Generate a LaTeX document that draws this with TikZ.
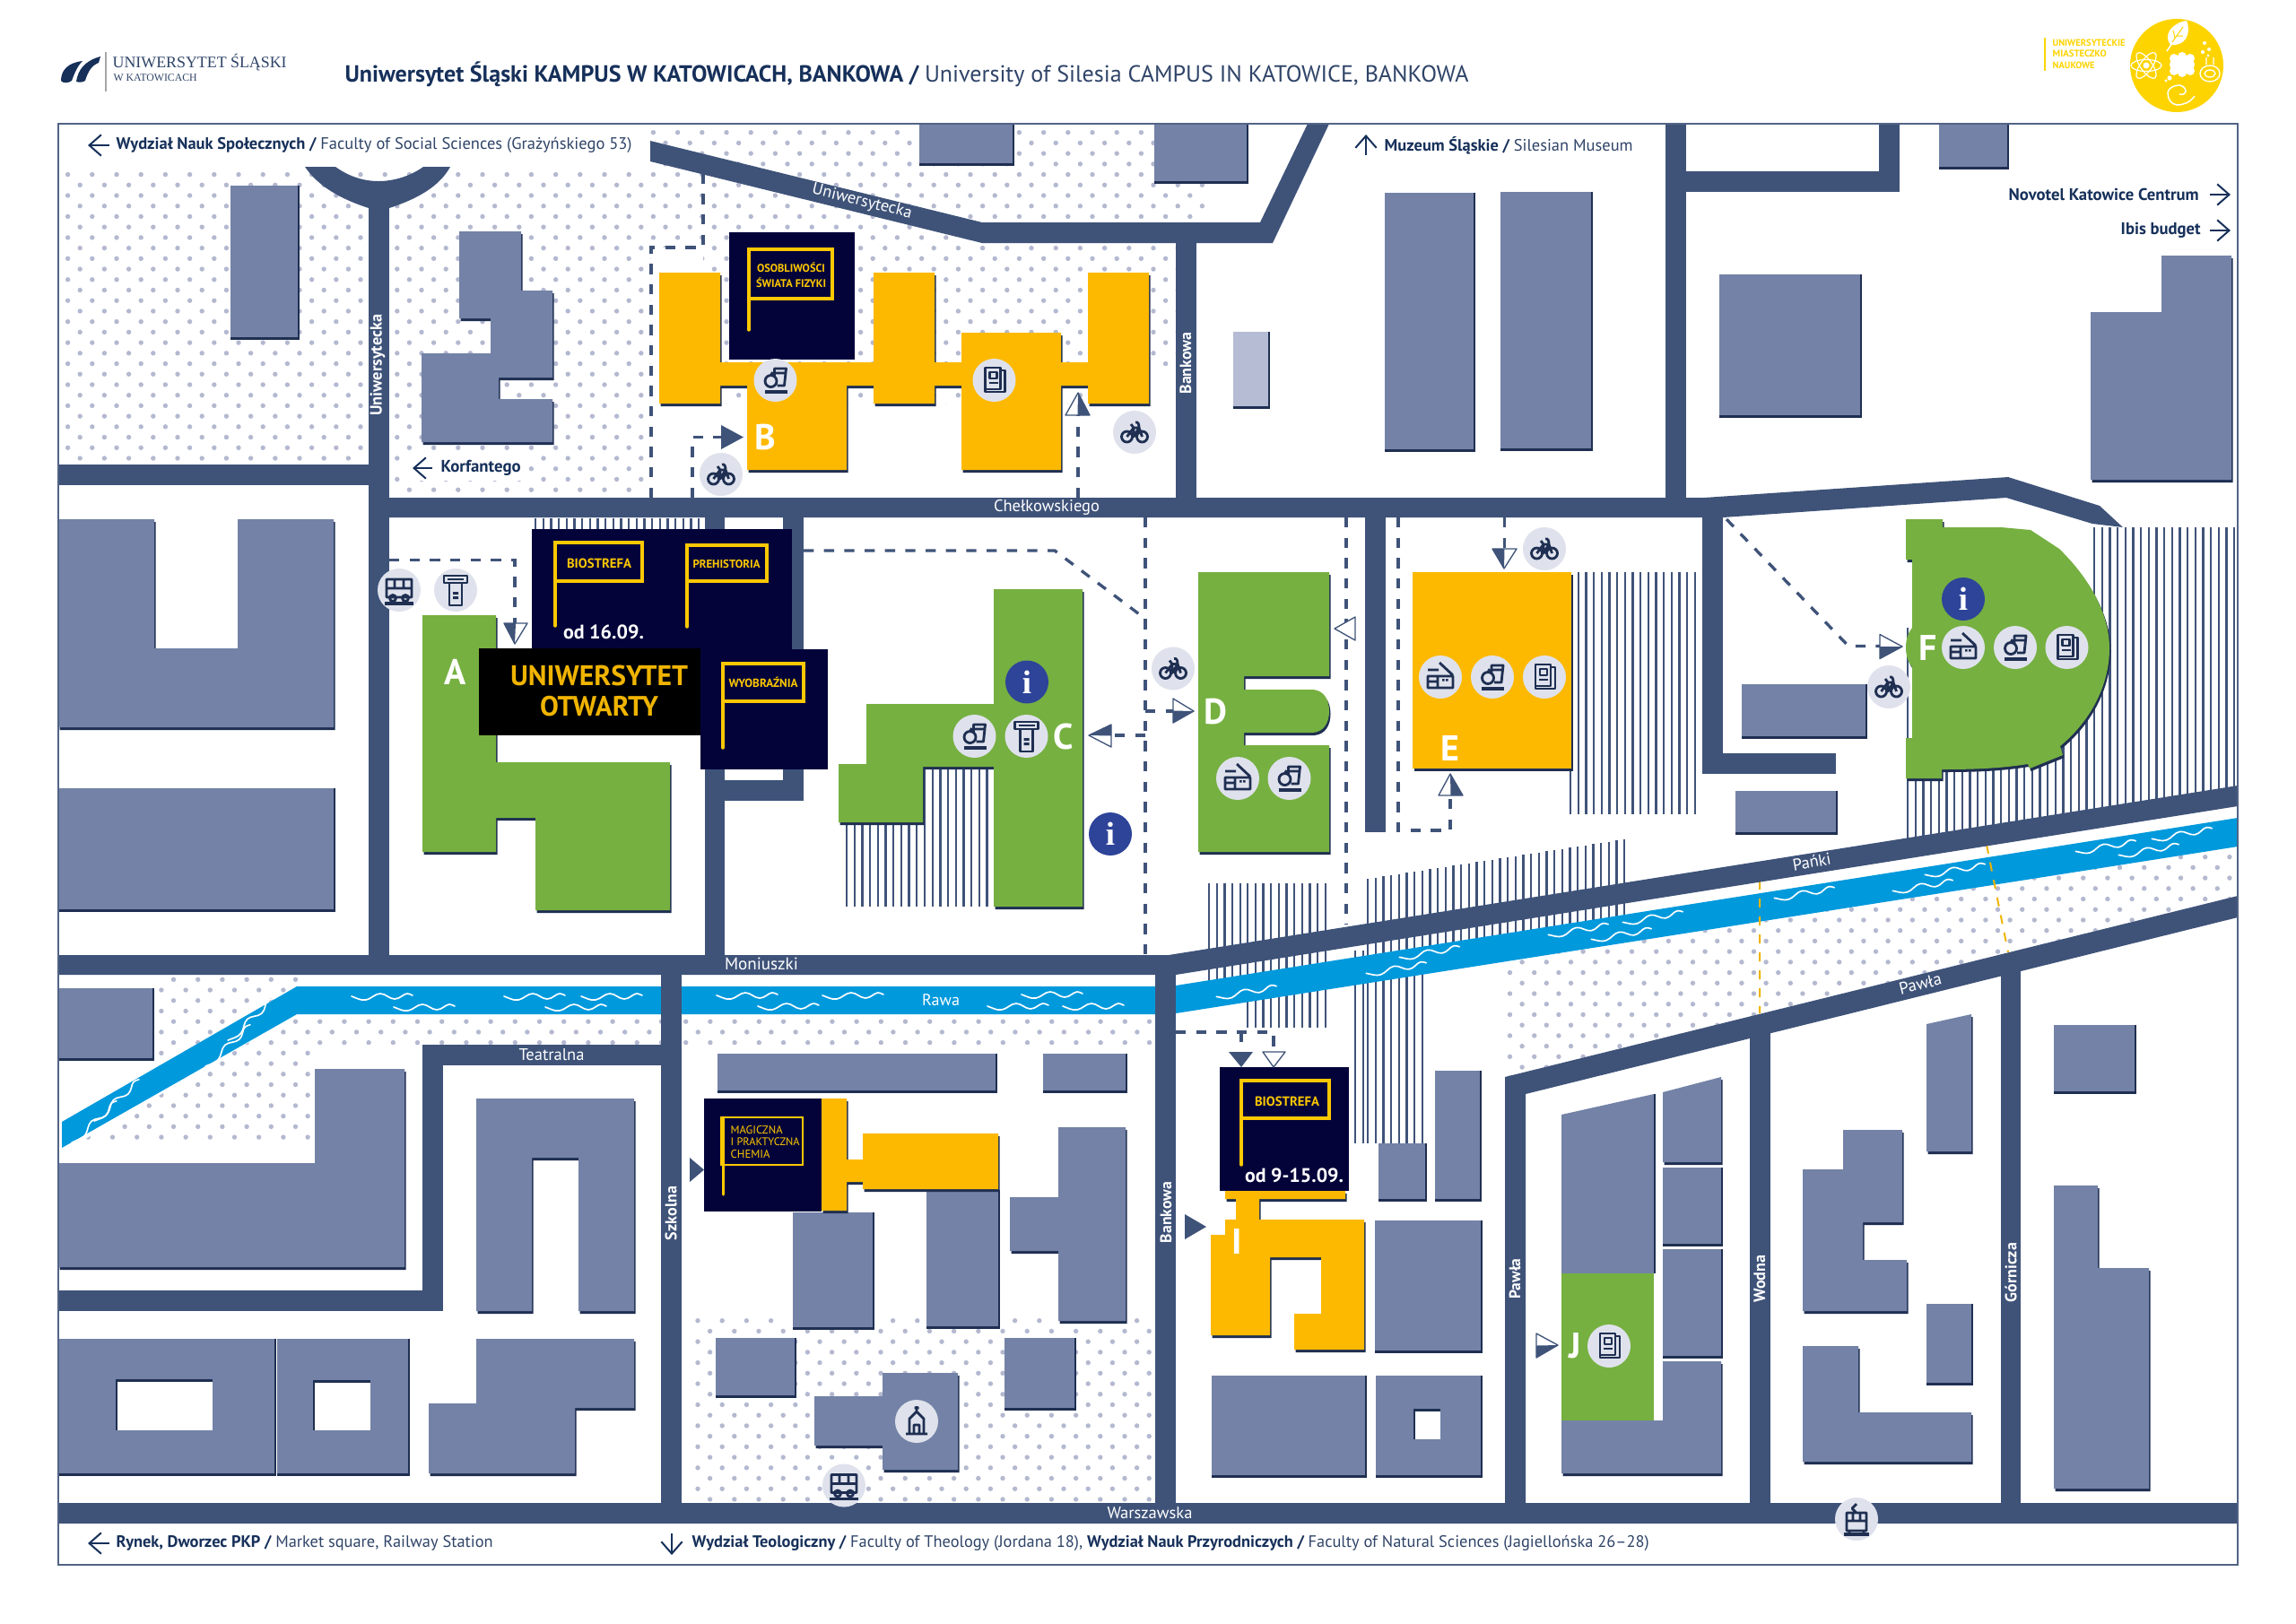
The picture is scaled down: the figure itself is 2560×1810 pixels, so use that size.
\documentclass[tikz,border=0pt]{standalone}
\usepackage{fontspec}
\setmainfont{PT Sans}
\newfontfamily\srf{Liberation Serif}
\usetikzlibrary{calc,arrows.meta}
\definecolor{roadc}{HTML}{3F5379}
\definecolor{bldc}{HTML}{7382A6}
\definecolor{lightb}{HTML}{B5BCD3}
\definecolor{shadc}{HTML}{1F2F52}
\definecolor{yelc}{HTML}{FDB900}
\definecolor{grnc}{HTML}{76B041}
\definecolor{rivc}{HTML}{0099DC}
\definecolor{navyc}{HTML}{03033A}
\definecolor{iconbg}{HTML}{DFE2EC}
\definecolor{infoc}{HTML}{2E4499}
\definecolor{dotc}{HTML}{B4B9D0}
\definecolor{flagc}{HTML}{FDC800}
\definecolor{txtb}{HTML}{16305A}
\definecolor{txtr}{HTML}{2F4468}
\definecolor{logoy}{HTML}{FDD400}
\definecolor{orgc}{HTML}{F0B400}
\newlength\pxu \setlength\pxu{0.3pt}
\newcommand\tw[2]{\resizebox{#1\pxu}{!}{#2}}
\newcommand\bld[2][bldc]{\fill[shadc,shift={(1.5,3)}] #2 -- cycle; \fill[#1] #2 -- cycle;}
\newcommand\rct[5][bldc]{\fill[shadc] (#2,#3) rectangle (#4+1.5,#5+3); \fill[#1] (#2,#3) rectangle (#4,#5);}
\newcommand\hole[4]{\fill[shadc] (#1-2,#2-3) rectangle (#3,#4); \fill[white] (#1,#2) rectangle (#3,#4);}
\newcommand\hatchr[4]{\pgfmathtruncatemacro\hn{(#2-#1)/8.67}\foreach \hk in {0,...,\hn}{\pgfmathsetmacro\hx{#1+8.67*\hk}\draw[hatchl] (\hx,#3) -- (\hx,#4);}}
\newcommand\dotfield[4]{\foreach \ri in {0,...,#3}{\pgfmathsetmacro\yy{#2+11.72*\ri}\pgfmathsetmacro\xo{#1+13.6*mod(\ri,2)}\foreach \ci in {0,...,#4}{\pgfmathsetmacro\xx{\xo+27.2*\ci}\fill[dotc] (\xx,\yy) circle (2.7);}}}
\newcommand\wave[3]{\draw[white,line width=.5pt,line cap=round,shift={(#1,#2)},rotate=#3] (-34,-1) .. controls (-28,1) and (-24,4) .. (-18,3) .. controls (-12,2) and (-8,-4) .. (-2,-4) .. controls (4,-4) and (8,2) .. (14,2) .. controls (20,2) and (24,-4) .. (28,-4) .. controls (30,-4) and (32,-3) .. (34,-2);}
\newcommand\flag[5]{\draw[flagc,line width=1pt] (#1,#2) rectangle (#3,#4); \draw[flagc,line width=1pt,line cap=round] (#1,#4) -- (#1,#5);}
\newcommand\harrow[3]{\filldraw[fill=white,draw=roadc,line width=.4pt,line join=round] #1 -- #2 -- #3 -- cycle; \fill[roadc] #1 -- #2 -- ($#2!.5!#3$) -- cycle;}
\newcommand\oarrow[3]{\filldraw[fill=white,draw=roadc,line width=.4pt,line join=round] #1 -- #2 -- #3 -- cycle;}
\newcommand\farrow[3]{\fill[roadc] #1 -- #2 -- #3 -- cycle;}
\newcommand\icbg[2]{\fill[iconbg] (#1,#2) circle (24);}
\tikzset{il/.style={draw=shadc,line width=.85pt,line join=round},
 dashl/.style={draw=roadc,line width=1pt,dash pattern=on 3.4pt off 3.4pt},
 hatchl/.style={draw=roadc,line width=.7pt},
 strt/.style={text=white,inner sep=0pt},
 lett/.style={text=white,inner sep=0pt,font=\bfseries\fontsize{12}{12}\selectfont},
 lbl/.style={inner sep=0pt,anchor=west},
 barb/.style={draw=txtb,line width=.6pt,-{Straight Barb[length=4pt,width=7pt]}}}
\newcommand\icbike[2]{\icbg{#1}{#2}\begin{scope}[shift={(#1,#2)}]\draw[il] (-8.5,5) circle (6) (8.5,5) circle (6) (-8.5,5) -- (-1,-5) -- (5,-5) -- (8.5,5) (-1,-5) -- (-1,5) -- (5,-5) (-4,-9) -- (-1,-5) (1,-11) .. controls (4,-12) and (5,-9) .. (5,-5);\end{scope}}
\newcommand\iclab[2]{\icbg{#1}{#2}\begin{scope}[shift={(#1,#2)}]\draw[il] (-5,1) circle (6.5) (-5,-5.5) -- (-3,-9) (-1,-5) -- (-1,-13) -- (12,-13) -- (10,6) -- (2,6) (-1,-8) -- (11.5,-8);\draw[shadc,line width=1pt] (-12,13) -- (13,13);\end{scope}}
\newcommand\icatm[2]{\icbg{#1}{#2}\begin{scope}[shift={(#1,#2)}]\draw[il] (-13,-16) rectangle (13,-8) (-7,-8) -- (-7,17) -- (7,17) -- (7,-8) (-9,-12) -- (9,-12);\fill[shadc] (-3,2) rectangle (3,5) (-3,7) rectangle (3,10);\end{scope}}
\newcommand\icbook[2]{\icbg{#1}{#2}\begin{scope}[shift={(#1,#2)}]\draw[il] (-10,-14) rectangle (7,10) (7,-11) -- (12,-11) -- (12,13) -- (-10,13) -- (-10,10) (-5,-9) rectangle (3,-2) (-6,3) -- (4,3);\end{scope}}
\newcommand\icradio[2]{\icbg{#1}{#2}\begin{scope}[shift={(#1,#2)}]\draw[il] (-14,-1) rectangle (14,12) (-14,5) -- (-3,5) (-3,-1) -- (-3,12) (-14,-8) -- (-2,-8) (-1,-16) -- (14,-2);\fill[shadc] (2,2) rectangle (4.5,4.5) (6,2) rectangle (8.5,4.5);\end{scope}}
\newcommand\icbus[2]{\icbg{#1}{#2}\begin{scope}[shift={(#1,#2)}]\draw[il] (-14,-12) rectangle (14,8) (-14,-2) -- (14,-2) (-5,-12) -- (-5,-2) (5,-12) -- (5,-2) (-7,9) circle (3.5) (7,9) circle (3.5);\draw[shadc,line width=1pt] (-16,15) -- (16,15);\end{scope}}
\newcommand\ictrain[2]{\icbg{#1}{#2}\begin{scope}[shift={(#1,#2)}]\draw[il] (-11,-7) rectangle (11,13) (-11,2) -- (11,2) (-4,-7) -- (-4,2) (4,-7) -- (4,2) (0,-7) -- (-5,-12) -- (0,-17) (-8,13) -- (-8,17) (8,13) -- (8,17);\draw[shadc,line width=1pt] (-14,17) -- (14,17);\end{scope}}
\newcommand\icchurch[2]{\icbg{#1}{#2}\begin{scope}[shift={(#1,#2)}]\draw[il] (-8,14) -- (-8,-3) -- (0,-11) -- (8,-3) -- (8,14) (-3,14) -- (-3,4) -- (3,4) -- (3,14) (0,-11) -- (0,-17) (-2.5,-15) -- (2.5,-15) (-12,14) -- (12,14);\end{scope}}
\newcommand\icinfo[3]{\fill[infoc] (#2,#3) circle (24); \node[text=white,font=\srf\bfseries\fontsize{11}{11}\selectfont,inner sep=0pt] (#1) at (#2,#3) {i};}
\begin{document}
\begin{tikzpicture}[x=0.3pt,y=-0.3pt]
\useasboundingbox (0,0) rectangle (2560,1810);
\fill[white] (0,0) rectangle (2560,1810);
% dot fields
\begin{scope}
\clip (725,140) -- (1458,140) -- (1405,248) -- (1095,248) -- (725,157) -- cycle
 (68,188) -- (725,188) -- (725,180) -- (1095,271) -- (1311,271) -- (1311,410) -- (1281,410) -- (1281,450) -- (735,450) -- (735,304) -- (784,304) -- (784,276) -- (726,276) -- (726,555) -- (434,555) -- (434,518) -- (68,518) -- cycle;
\dotfield{75.6}{147.7}{35}{46}
\end{scope}
\begin{scope}
\clip (172,1089) -- (335,1089) -- (331,1100) -- (172,1192) -- cycle
 (331,1131) -- (737,1131) -- (737,1165) -- (351,1165) -- (351,1272) -- (92,1272) -- cycle
 (760,1131) -- (1288,1131) -- (1288,1165) -- (760,1165) -- cycle;
\dotfield{84.7}{1092.3}{16}{44}
\end{scope}
\begin{scope}
\clip (760,1465) -- (1288,1465) -- (1288,1676) -- (760,1676) -- cycle;
\dotfield{778}{1472.7}{18}{19}
\end{scope}
\begin{scope}
\clip (1680,1072) -- (2495,944) -- (2495,999) -- (1678,1201) -- cycle;
\dotfield{1669.9}{932.2}{24}{31}
\end{scope}
% hatches
\hatchr{597}{786}{578}{600}
\hatchr{944}{1029}{915}{1011}
\hatchr{1031}{1108}{855}{1011}
\hatchr{1751}{1892}{638}{908}
\foreach \hk in {0,...,42}{\pgfmathsetmacro\hx{2127+8.67*\hk}\pgfmathsetmacro\hB{1075-(\hx-1303)*0.15856}\pgfmathsetmacro\hT{\hx<2333?700:588}\draw[hatchl] (\hx,\hT) -- (\hx,\hB);}
\hatchr{1348}{1388}{985}{1110}
\hatchr{1391}{1480}{985}{1146}
\hatchr{1511}{1525}{1060}{1275}
\foreach \hk in {0,...,33}{\pgfmathsetmacro\hx{1525+8.67*\hk}\pgfmathsetmacro\hT{980-(\hx-1525)*0.15385}\pgfmathsetmacro\hB{\hx<1591?1275:1105-(\hx-1311)*0.15794}\draw[hatchl] (\hx,\hT) -- (\hx,\hB);}
% river
\fill[rivc] (69,1251) -- (331,1100) -- (1288,1100) -- (1288,1131) -- (331,1131) -- (69,1280) -- cycle;
\fill[rivc] (1285,1101) -- (1311,1099) -- (2495,912) -- (2495,944) -- (1311,1130) -- (1285,1130) -- cycle;
\foreach \wx/\wy in {426/1112,473/1124,596/1112,642/1124,682/1112,833/1111,879/1123,951/1111,1173/1110,1135/1123,1219/1123}{\wave{\wx}{\wy}{0}}
\foreach \wx/\wy in {280/1138,255/1167,131/1228,106/1252}{\wave{\wx}{\wy}{42}}
\foreach \wx/\wy in {1390/1107,1557/1081,1594/1063,1760/1038,1808/1043,1843/1024,2012/997,2144/989,2180/971,2348/945,2396/949,2433/931}{\wave{\wx}{\wy}{9}}
% orange dashed
\draw[orgc,line width=.6pt,dash pattern=on 3pt off 3pt] (1962,982) -- (1962,1130) (2215,942) -- (2239,1062);
% dashed routes under roads
\draw[dashl] (726,555) -- (726,276) -- (784,276) -- (784,194);
\draw[dashl] (772,555) -- (772,487.5) -- (804,487.5);
\draw[dashl] (1202,555) -- (1202,463);
\draw[dashl] (1277,577) -- (1277,1065);
\draw[dashl] (896,614) -- (1176,614) -- (1277,690);
\draw[dashl] (1277,820) -- (1239,820);
\draw[dashl] (1277,793) -- (1308,793);
\draw[dashl] (1501,577) -- (1501,1031);
\draw[dashl] (1559,577) -- (1559,926) -- (1617,926) -- (1617,887);
\draw[dashl] (1677.5,577) -- (1677.5,612);
\draw[dashl] (1925,579) -- (2061,720.5) -- (2096,720.5);
\draw[dashl] (434,624.5) -- (574,624.5) -- (574,695);
\draw[dashl] (1311,1151) -- (1420,1151) -- (1420,1173);
\draw[dashl] (1384,1151) -- (1384,1173);
% roads
\begin{scope}[roadc]
\fill (725,157) -- (1095,248) -- (1405,248) -- (1458,138) -- (1482,138) -- (1419,271) -- (1095,271) -- (725,180) -- cycle;
\fill (340,186) .. controls (355,208) and (380,222) .. (411,232) -- (434,232) .. controls (465,222) and (490,208) .. (502,186) -- (472,186) .. controls (458,196) and (440,202) .. (422,202) .. controls (404,202) and (388,196) .. (374,186) -- cycle;
\fill (411,225) rectangle (434,1070);
\fill (65,518) rectangle (411,540.5);
\fill (434,555) -- (1900,555) -- (2239,532) -- (2341,564) -- (2367,588) -- (2333,584) -- (2237,555) -- (1921,577) -- (434,577) -- cycle;
\fill (1311,265) rectangle (1334,560);
\fill (1857,138) rectangle (1880,560);
\fill (2095,138) rectangle (2118,213.5);
\fill (1880,191) rectangle (2118,213.5);
\fill (786,577) rectangle (808,1070);
\fill (873,577) rectangle (896,892.5);
\fill (786,870) rectangle (896,892.5);
\fill (1522,577) rectangle (1545,928);
\fill (1898,570) rectangle (1921,863);
\fill (1898,840) rectangle (2047,863);
\fill (65,1065) -- (1303,1065) -- (2495,876) -- (2495,899) -- (1311,1087) -- (65,1087) -- cycle;
\fill (1288,1070) rectangle (1311,1680);
\fill (65,1676) rectangle (2495,1699);
\fill (737,1087) rectangle (760,1680);
\fill (471,1165) rectangle (737,1188);
\fill (471,1165) rectangle (494,1462);
\fill (65,1439) rectangle (494,1462);
\fill (1678,1201) -- (2495,999) -- (2495,1023) -- (1701,1220) -- (1701,1680) -- (1678,1680) -- cycle;
\fill (1951,1150) rectangle (1974,1680);
\fill (2231,1070) rectangle (2253,1680);
\end{scope}
% grey buildings
\rct{257}{207}{332}{376}
\bld{(512,258) -- (581,258) -- (581,324) -- (616,324) -- (616,421) -- (556,421) -- (556,445) -- (616,445) -- (616,493) -- (470,493) -- (470,394) -- (547,394) -- (547,355) -- (512,355)}
\rct{1025}{138}{1129}{182}
\rct{1287}{138}{1390}{202}
\rct[lightb]{1375}{370}{1414}{453}
\rct{1544}{215}{1643}{501}
\rct{1673}{214}{1774}{500}
\rct{1917}{306}{2074}{463}
\rct{2162}{138}{2238}{186}
\bld{(2331,348) -- (2410,348) -- (2410,285) -- (2488,285) -- (2488,535) -- (2331,535)}
\bld{(65,579) -- (172,579) -- (172,723) -- (265,723) -- (265,579) -- (372,579) -- (372,811) -- (65,811)}
\rct{65}{879}{372}{1014}
\rct{1942}{763}{2080}{821}
\rct{1935}{882}{2047}{928}
\rct{65}{1102}{170}{1180}
\bld{(351,1192) -- (451,1192) -- (451,1413) -- (65,1413) -- (65,1297) -- (351,1297)}
\bld{(531,1225) -- (707,1225) -- (707,1462) -- (645,1462) -- (645,1291) -- (593,1291) -- (593,1462) -- (531,1462)}
\rct{65}{1493}{306}{1643}\hole{131}{1541}{237}{1595}
\rct{309}{1493}{455}{1643}\hole{351}{1542}{413}{1595}
\bld{(531,1493) -- (707,1493) -- (707,1570) -- (641,1570) -- (641,1643) -- (478,1643) -- (478,1565) -- (531,1565)}
\rct{800}{1175}{1110}{1216}
\rct{1163}{1175}{1255}{1216}
\rct{884}{1352}{973}{1480}
\rct{1033}{1327}{1113}{1479}
\bld{(1180,1257) -- (1255,1257) -- (1255,1473) -- (1180,1473) -- (1180,1395) -- (1126,1395) -- (1126,1335) -- (1180,1335)}
\rct{798}{1492}{886}{1556}
\rct{1120}{1492}{1198}{1570}
\bld{(984,1531) -- (1068,1531) -- (1068,1639) -- (984,1639) -- (984,1612) -- (908,1612) -- (908,1557) -- (984,1557)}
\rct{1537}{1275}{1589}{1337}
\rct{1600}{1194}{1650}{1337}
\rct{1533}{1361}{1651}{1506}
\rct{1351}{1534}{1522}{1645}
\rct{1534}{1534}{1651}{1645}\hole{1578}{1574}{1606}{1605}
\fill[bldc] (1741,1243) -- (1844,1220) -- (1844,1420) -- (1741,1420) -- cycle;
\fill[shadc] (1844,1220) rectangle (1845.5,1420);
\bld{(1741,1584) -- (1854,1584) -- (1854,1518) -- (1919,1518) -- (1919,1643) -- (1741,1643)}
\bld{(1854,1218) -- (1919,1201) -- (1919,1296) -- (1854,1296)}
\rct{1854}{1302}{1919}{1387}
\rct{1854}{1393}{1919}{1512}
\bld{(2055,1260) -- (2121,1260) -- (2121,1363) -- (2077,1363) -- (2077,1405) -- (2126,1405) -- (2126,1462) -- (2010,1462) -- (2010,1304) -- (2055,1304)}
\bld{(2148,1142) -- (2198,1131) -- (2198,1284) -- (2148,1284)}
\rct{2148}{1454}{2198}{1542}
\bld{(2010,1501) -- (2072,1501) -- (2072,1575) -- (2198,1575) -- (2198,1630) -- (2010,1630)}
\rct{2290}{1143}{2380}{1217}
\bld{(2290,1322) -- (2339,1322) -- (2339,1414) -- (2396,1414) -- (2396,1660) -- (2290,1660)}
% coloured buildings
\bld[grnc]{(471,686) -- (553,686) -- (553,850) -- (747,850) -- (747,1015) -- (597,1015) -- (597,912) -- (553,912) -- (553,950) -- (471,950)}
\bld[yelc]{(735,304) -- (803,304) -- (803,404) -- (974,404) -- (974,304) -- (1042,304) -- (1042,404) -- (1072,404) -- (1072,371) -- (1183,371) -- (1183,404) -- (1213,404) -- (1213,304) -- (1281,304) -- (1281,450) -- (1213,450) -- (1213,430) -- (1183,430) -- (1183,524) -- (1072,524) -- (1072,430) -- (1042,430) -- (1042,450) -- (974,450) -- (974,430) -- (944,430) -- (944,524) -- (833,524) -- (833,430) -- (803,430) -- (803,450) -- (735,450)}
\bld[grnc]{(1108,657) -- (1207,657) -- (1207,1011) -- (1108,1011) -- (1108,855) -- (1029,855) -- (1029,917) -- (935,917) -- (935,852) -- (966,852) -- (966,785) -- (1108,785)}
\bld[grnc]{(1336,638) -- (1482,638) -- (1482,754) -- (1387,754) -- (1387,769) -- (1464,769) .. controls (1476,770) and (1482,780) .. (1482,793) .. controls (1482,806) and (1476,816) .. (1464,817) -- (1387,817) -- (1387,831) -- (1482,831) -- (1482,950) -- (1336,950)}
\bld[yelc]{(1575,638) -- (1752,638) -- (1752,857) -- (1575,857)}
\bld[grnc]{(2125,579) -- (2166,579) -- (2166,588) -- (2231,588) -- (2264,591) -- (2296,612) .. controls (2335,650) and (2352,690) .. (2352,723) .. controls (2352,765) and (2330,805) .. (2297,832) -- (2300,842) -- (2263,857) -- (2261,852) .. controls (2230,857) and (2200,858) .. (2165,858) -- (2165,868) -- (2125,868) -- (2125,823) -- (2132,823) -- (2132,744) .. controls (2127,738) and (2125,730) .. (2125,722) .. controls (2125,714) and (2127,706) .. (2132,700) -- (2132,624) -- (2125,624)}
\bld[yelc]{(916,1225) -- (944,1225) -- (944,1293) -- (962,1293) -- (962,1264) -- (1113,1264) -- (1113,1326) -- (962,1326) -- (962,1318) -- (944,1318) -- (944,1350) -- (916,1350)}
\bld[yelc]{(1366,1328) -- (1500,1328) -- (1500,1337) -- (1404,1337) -- (1404,1360) -- (1521,1360) -- (1521,1505) -- (1443,1505) -- (1443,1465) -- (1473,1465) -- (1473,1402) -- (1416,1402) -- (1416,1489) -- (1350,1489) -- (1350,1377) -- (1366,1377) -- (1366,1360) -- (1378,1360) -- (1378,1337) -- (1366,1337)}
\fill[grnc] (1741,1420) rectangle (1844,1584);
% panels
\fill[navyc] (813,259) rectangle (953,401);
\fill[navyc] (593,590) rectangle (883,725);
\fill[navyc] (781,724) rectangle (923,858);
\fill[black] (534,723) rectangle (781,819.5);
\fill[navyc] (785,1225) rectangle (916,1351);
\fill[navyc] (1360,1190) rectangle (1504,1328);
\flag{835}{278}{928}{333}{368}
\flag{619}{605}{716}{648}{698}
\flag{766}{608}{855}{648}{699}
\flag{806}{740}{896}{782}{834}
\flag{1384}{1205}{1482}{1247}{1299}
\draw[flagc,line width=.35pt] (804,1246) rectangle (895,1299);
\draw[flagc,line width=.9pt,line cap=round] (806,1246) -- (806,1332);
% arrow heads
\harrow{(574,718)}{(562,695)}{(588,695)}
\farrow{(829,487.5)}{(804,474)}{(804,501)}
\harrow{(1202,438)}{(1215,463)}{(1188,463)}
\harrow{(1214,820)}{(1239,808)}{(1239,833)}
\harrow{(1331,793)}{(1308,806)}{(1308,779)}
\oarrow{(1488,701)}{(1511,688)}{(1511,714)}
\harrow{(1617,863)}{(1631,887)}{(1604,887)}
\harrow{(1677,634)}{(1664,612)}{(1691,612)}
\harrow{(2121,721)}{(2096,734.5)}{(2096,707.5)}
\farrow{(1384,1190)}{(1370,1173)}{(1397,1173)}
\oarrow{(1420,1190)}{(1408,1173)}{(1433,1173)}
\farrow{(785,1304.5)}{(769,1291)}{(769,1318)}
\farrow{(1345,1368)}{(1321,1354)}{(1321,1382)}
\harrow{(1737,1500)}{(1713,1514)}{(1713,1487)}
% icons
\icbus{445}{658}\icatm{508}{658}
\iclab{864.5}{424}\icbook{1108.5}{424}
\icbike{804}{529}\icbike{1265}{482}\icbike{1722}{612}\icbike{1308}{745.5}\icbike{2106}{766}
\iclab{1086.5}{821}\icatm{1144.5}{821}
\icinfo{inf1}{1145}{760.5}\icinfo{inf2}{1238}{930}\icinfo{inf3}{2189}{668}
\icradio{1380}{868}\iclab{1437.5}{868}
\icradio{1606}{755}\iclab{1664}{755}\icbook{1722}{755}
\icradio{2189}{722}\iclab{2247}{722}\icbook{2304.5}{722}
\icbook{1794}{1501}
\icchurch{1022}{1585}\icbus{941}{1656.5}\ictrain{2070}{1694}
% frame
\draw[roadc!90,line width=.8pt] (65,138) rectangle (2495,1745);
% building letters
\node[lett] (la) at (508,749) {A};
\node[lett] (lb) at (853,487.5) {B};
\node[lett] (lc) at (1186,821) {C};
\node[lett] (ld) at (1355,794) {D};
\node[lett] (le) at (1617,834) {E};
\node[lett] (lf) at (2150,722) {F};
\node[lett] (li) at (1379,1384) {I};
\node[lett] (lj) at (1756,1501) {J};
% panel text
\tikzset{ft/.style={text=flagc,inner sep=0pt}}
\node[ft] (p1a) at (882,298.5) {\tw{76}{\bfseries OSOBLIWOŚCI}};
\node[ft] (p1b) at (882,315) {\tw{78}{\bfseries ŚWIATA FIZYKI}};
\node[ft] (p2) at (668,628) {\tw{72}{\bfseries BIOSTREFA}};
\node[ft] (p3) at (810,629) {\tw{75}{\bfseries PREHISTORIA}};
\node[ft] (p4) at (851,761) {\tw{77}{\bfseries WYOBRAŹNIA}};
\node[text=white,inner sep=0pt] (d1) at (673,705) {\tw{90}{\bfseries od 16.09.}};
\node[text=orgc,inner sep=0pt] (u1) at (668,753) {\tw{198}{\bfseries UNIWERSYTET}};
\node[text=orgc,inner sep=0pt] (u2) at (668,788) {\tw{132}{\bfseries OTWARTY}};
\node[ft,anchor=west] (p5a) at (814,1260) {\tw{58}{MAGICZNA}};
\node[ft,anchor=west] (p5b) at (814,1273.5) {\tw{77}{I PRAKTYCZNA}};
\node[ft,anchor=west] (p5c) at (814,1287) {\tw{44}{CHEMIA}};
\node[ft] (p6) at (1435,1228) {\tw{72}{\bfseries BIOSTREFA}};
\node[text=white,inner sep=0pt] (d2) at (1443,1310.5) {\tw{110}{\bfseries od 9-15.09.}};
% street labels
\node[strt,rotate=-14] (s1) at (961,225) {\tw{114}{Uniwersytecka}};
\node[strt,rotate=90] (s2) at (421,407) {\tw{113}{\bfseries Uniwersytecka}};
\node[strt,rotate=90] (s3) at (1322,405) {\tw{69}{\bfseries Bankowa}};
\node[strt] (s4) at (1167,565.5) {\tw{118}{Chełkowskiego}};
\node[strt] (s5) at (849,1075) {\tw{82}{Moniuszki}};
\node[strt] (s6) at (1049,1115) {\tw{42}{Rawa}};
\node[strt] (s7) at (615,1176) {\tw{73}{Teatralna}};
\node[strt,rotate=90] (s8) at (748,1353) {\tw{60}{\bfseries Szkolna}};
\node[strt,rotate=90] (s9) at (1300,1352) {\tw{68}{\bfseries Bankowa}};
\node[strt] (s10) at (1282,1687.5) {\tw{95}{Warszawska}};
\node[strt,rotate=90] (s11) at (1689,1426) {\tw{45}{\bfseries Pawła}};
\node[strt,rotate=14] (s12) at (2141,1097) {\tw{48}{Pawła}};
\node[strt,rotate=10] (s13) at (2020,961) {\tw{43}{Pańki}};
\node[strt,rotate=90] (s14) at (1962,1426) {\tw{53}{\bfseries Wodna}};
\node[strt,rotate=90] (s15) at (2242,1419) {\tw{66}{\bfseries Górnicza}};
% direction labels
\node[lbl,text=txtb] (t1) at (129,162) {\tw{575}{\bfseries Wydział Nauk Społecznych / \mdseries\color{txtr}Faculty of Social Sciences (Grażyńskiego 53)}};
\draw[barb] (122,162) -- (98,162);
\node[lbl,text=txtb] (t2) at (1543,162) {\tw{277}{\bfseries Muzeum Śląskie / \mdseries\color{txtr}Silesian Museum}};
\draw[barb] (1523,173) -- (1523,150);
\node[lbl,text=txtb] (t3) at (2239,217) {\tw{212}{\bfseries Novotel Katowice Centrum}};
\draw[barb] (2464,217) -- (2487,217);
\node[lbl,text=txtb] (t4) at (2364,257) {\tw{89}{\bfseries Ibis budget}};
\draw[barb] (2464,257) -- (2487,257);
\fill[white] (452,508) rectangle (586,536);
\node[lbl,text=txtb] (t5) at (491,522) {\tw{89}{\bfseries Korfantego}};
\draw[barb] (482,522) -- (460,522);
\node[lbl,text=txtb] (t6) at (129,1721) {\tw{420}{\bfseries Rynek, Dworzec PKP / \mdseries\color{txtr}Market square, Railway Station}};
\draw[barb] (122,1721) -- (98,1721);
\node[lbl,text=txtb] (t7) at (771,1721) {\tw{1067}{\bfseries Wydział Teologiczny / \mdseries\color{txtr}Faculty of Theology (Jordana 18), \bfseries\color{txtb}Wydział Nauk Przyrodniczych / \mdseries\color{txtr}Faculty of Natural Sciences (Jagiellońska 26–28)}};
\draw[barb] (749,1710) -- (749,1734);
% title
\node[lbl,text=txtb] (title) at (384,83) {\tw{1253}{\bfseries Uniwersytet Śląski KAMPUS W KATOWICACH, BANKOWA / \mdseries\color{txtr}University of Silesia CAMPUS IN KATOWICE, BANKOWA}};
% UŚ logo
\fill[txtb] (68,90) .. controls (68,78) and (76,70) .. (92,68) .. controls (86,74) and (83,82) .. (80,90) .. controls (76,93) and (70,93) .. (68,90) -- cycle;
\fill[txtb] (85,91) .. controls (87,78) and (94,68) .. (112,63) -- (110,70) .. controls (102,73) and (98,80) .. (95,90) .. controls (92,92) and (88,92) .. (85,91) -- cycle;
\draw[gray!70,line width=.35pt] (118,58) -- (118,102);
\node[lbl,text=txtr] (lg1) at (125,70) {\tw{194}{\srf UNIWERSYTET ŚLĄSKI}};
\node[lbl,text=txtr] (lg2) at (126,87) {\tw{93}{\srf W KATOWICACH}};
% Miasteczko logo
\fill[logoy] (2427,73) circle (52);
\draw[logoy,line width=.7pt] (2280,42) -- (2280,79);
\node[lbl,text=logoy] (lg3) at (2288,48) {\tw{81}{\bfseries UNIWERSYTECKIE}};
\node[lbl,text=logoy] (lg4) at (2288,60) {\tw{60}{\bfseries MIASTECZKO}};
\node[lbl,text=logoy] (lg5) at (2288,73) {\tw{47}{\bfseries NAUKOWE}};
\fill[white] (2420,50) .. controls (2412,40) and (2420,26) .. (2438,23) .. controls (2444,38) and (2436,52) .. (2420,50) -- cycle;
\draw[white,line width=.45pt] (2416,57) -- (2422,48);
\draw[logoy,line width=.3pt] (2422,47) -- (2434,30) (2427,40) -- (2434,40) (2425,42) -- (2423,34);
\begin{scope}[white,line width=.35pt]
\draw (2393,73) ellipse (17 and 6.5);
\draw[rotate around={55:(2393,73)}] (2393,73) ellipse (17 and 6.5);
\draw[rotate around={-55:(2393,73)}] (2393,73) ellipse (17 and 6.5);
\end{scope}
\fill[white] (2393,73) circle (3.5);
\fill[white] (2433,72) ellipse (14 and 9) (2424,65) circle (5) (2433,63) circle (5) (2442,65) circle (5) (2424,79) circle (5) (2433,81) circle (5) (2442,79) circle (5) (2419,87) circle (2.6) (2415,90) circle (1.6);
\fill[white] (2458,48) circle (2) (2463,55) circle (2) (2456,58) circle (2) (2462,62) circle (1.6);
\draw[white,line width=.4pt] (2464,82) ellipse (11 and 9) (2464,82) ellipse (6 and 4) (2460,64) -- (2460,72) (2468,64) -- (2468,72);
\draw[white,line width=.45pt] (2447,107) .. controls (2442,114) and (2435,117) .. (2427,117) .. controls (2420,116) and (2417,110) .. (2417,103) .. controls (2418,98) and (2424,95) .. (2430,95) .. controls (2435,96) and (2437,99) .. (2437,102) .. controls (2436,105) and (2433,106) .. (2430,105);
\end{tikzpicture}
\end{document}
